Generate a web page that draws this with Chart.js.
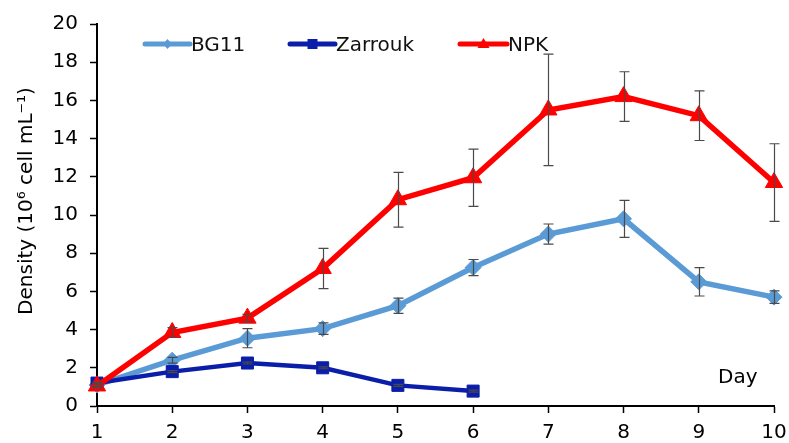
<!DOCTYPE html>
<html>
<head>
<meta charset="utf-8">
<script src="https://cdn.jsdelivr.net/npm/chart.js@4.4.1/dist/chart.umd.min.js"></script>
<style>
  html, body { margin: 0; padding: 0; background: #fff; }
  #wrap { width: 789px; height: 443px; position: relative; }
</style>
</head>
<body>
<div id="wrap"><canvas id="c" width="789" height="443"></canvas></div>
<script>
// Culture days
const days = [1, 2, 3, 4, 5, 6, 7, 8, 9, 10];

// Cell density (10^6 cell mL^-1) per medium
const bg11 = [1.1, 2.4, 3.55, 4.05, 5.25, 7.25, 9.0, 9.8, 6.5, 5.7];
const bg11Err = [0.1, 0.15, 0.5, 0.3, 0.4, 0.42, 0.53, 0.97, 0.74, 0.33];

const zarrouk = [1.2, 1.8, 2.25, 2.0, 1.08, 0.78];
const zarroukErr = [0.05, 0.05, 0.05, 0.05, 0.05, 0.05];

const npk = [1.05, 3.85, 4.6, 7.2, 10.8, 11.95, 15.5, 16.2, 15.2, 11.7];
const npkErr = [0.1, 0.25, 0.2, 1.05, 1.43, 1.5, 2.92, 1.3, 1.3, 2.03];

const yTicks = [0, 2, 4, 6, 8, 10, 12, 14, 16, 18, 20];

const FONT = 'DejaVu Sans, Verdana, sans-serif';
const C_BG11 = '#5B9BD5';
const C_ZAR = '#0A1EAA';
const C_NPK = '#FF0000';

function toPoints(vals) {
  return vals.map((v, i) => ({ x: days[i], y: v }));
}

// Vertical error bars with caps, positioned through the chart scales
const errorBars = {
  id: 'errorBars',
  afterDatasetsDraw(chart) {
    const { ctx, scales: { x, y } } = chart;
    ctx.save();
    ctx.strokeStyle = '#4a4a4a';
    ctx.lineWidth = 1.2;
    chart.data.datasets.forEach(ds => {
      const errs = ds.errors;
      if (!errs) return;
      ds.data.forEach((p, j) => {
        const e = errs[j];
        if (!e) return;
        const px = Math.round(x.getPixelForValue(p.x)) + 0.5;
        const top = y.getPixelForValue(p.y + e);
        const bot = y.getPixelForValue(p.y - e);
        const cap = 5;
        ctx.beginPath();
        ctx.moveTo(px, top); ctx.lineTo(px, bot);
        ctx.moveTo(px - cap, top); ctx.lineTo(px + cap, top);
        ctx.moveTo(px - cap, bot); ctx.lineTo(px + cap, bot);
        ctx.stroke();
      });
    });
    ctx.restore();
  }
};

// Legend row, axis title and "Day" caption
const annotations = {
  id: 'annotations',
  afterDraw(chart) {
    const ctx = chart.ctx;
    ctx.save();

    // y-axis title
    ctx.fillStyle = '#000';
    ctx.translate(32, 201);
    ctx.rotate(-Math.PI / 2);
    ctx.font = '20px ' + FONT;
    ctx.textAlign = 'center';
    ctx.textBaseline = 'alphabetic';
    ctx.fillText('Density (10\u2076 cell mL\u207B\u00B9)', 0, 0);
    ctx.setTransform(1, 0, 0, 1, 0, 0);

    // "Day" caption
    ctx.textAlign = 'left';
    ctx.fillText('Day', 718, 383);

    // legend
    const items = [
      { label: 'BG11', color: C_BG11, x0: 145, x1: 190, shape: 'diamond' },
      { label: 'Zarrouk', color: C_ZAR, x0: 290, x1: 335, shape: 'square' },
      { label: 'NPK', color: C_NPK, x0: 460, x1: 507, shape: 'triangle' }
    ];
    const ly = 44;
    items.forEach(it => {
      ctx.strokeStyle = it.color;
      ctx.fillStyle = it.color;
      ctx.lineWidth = 5;
      ctx.lineCap = 'round';
      ctx.beginPath();
      ctx.moveTo(it.x0, ly); ctx.lineTo(it.x1, ly);
      ctx.stroke();
      const cx = (it.x0 + it.x1) / 2;
      ctx.beginPath();
      if (it.shape === 'diamond') {
        ctx.moveTo(cx, ly - 5); ctx.lineTo(cx + 4.5, ly); ctx.lineTo(cx, ly + 5); ctx.lineTo(cx - 4.5, ly);
      } else if (it.shape === 'square') {
        ctx.rect(cx - 5, ly - 5, 10, 10);
      } else {
        ctx.moveTo(cx, ly - 6); ctx.lineTo(cx + 6, ly + 4); ctx.lineTo(cx - 6, ly + 4);
      }
      ctx.closePath();
      ctx.fill();
      ctx.fillStyle = '#111';
      ctx.font = '20px ' + FONT;
      ctx.textAlign = 'left';
      ctx.textBaseline = 'alphabetic';
      ctx.fillText(it.label, it.x1 + 1, 51);
    });
    ctx.restore();
  }
};

new Chart(document.getElementById('c'), {
  type: 'line',
  data: {
    datasets: [
      {
        label: 'NPK', data: toPoints(npk), errors: npkErr,
        borderColor: C_NPK, backgroundColor: C_NPK, borderWidth: 5.5,
        pointStyle: 'triangle', pointRadius: 10, pointBorderWidth: 1,
        pointBackgroundColor: C_NPK, pointBorderColor: C_NPK,
        tension: 0, clip: false, order: 0
      },
      {
        label: 'Zarrouk', data: toPoints(zarrouk), errors: zarroukErr,
        borderColor: C_ZAR, backgroundColor: C_ZAR, borderWidth: 4.5,
        pointStyle: 'rect', pointRadius: 8.5, pointBorderWidth: 1,
        pointBackgroundColor: C_ZAR, pointBorderColor: C_ZAR,
        tension: 0, clip: false, order: 1
      },
      {
        label: 'BG11', data: toPoints(bg11), errors: bg11Err,
        borderColor: C_BG11, backgroundColor: C_BG11, borderWidth: 5.5,
        pointStyle: 'rectRot', pointRadius: 8, pointBorderWidth: 1,
        pointBackgroundColor: C_BG11, pointBorderColor: C_BG11,
        tension: 0, clip: false, order: 2
      }
    ]
  },
  options: {
    responsive: false,
    animation: false,
    events: [],
    layout: { padding: { top: 24, right: 15, left: 0, bottom: 0 } },
    plugins: { legend: { display: false }, tooltip: { enabled: false }, title: { display: false } },
    scales: {
      x: {
        type: 'linear', min: 1, max: 10,
        afterFit(scale) { scale.height = 37; scale.paddingLeft = 0; scale.paddingRight = 0; },
        afterBuildTicks(scale) { scale.ticks = days.map(v => ({ value: v })); },
        ticks: { color: '#000', font: { family: FONT, size: 20 }, padding: 8, maxRotation: 0, autoSkip: false },
        grid: { display: true, drawOnChartArea: false, drawTicks: true, tickLength: 7, tickColor: '#000', tickWidth: 1.5 },
        border: { display: true, color: '#000', width: 2 }
      },
      y: {
        type: 'linear', min: 0, max: 20,
        afterFit(scale) { scale.width = 97; scale.paddingTop = 0; scale.paddingBottom = 0; },
        afterBuildTicks(scale) { scale.ticks = yTicks.map(v => ({ value: v })); },
        ticks: { color: '#000', font: { family: FONT, size: 20 }, padding: 12, autoSkip: false },
        grid: { display: true, drawOnChartArea: false, drawTicks: true, tickLength: 7, tickColor: '#000', tickWidth: 1.5 },
        border: { display: true, color: '#000', width: 2 }
      }
    }
  },
  plugins: [errorBars, annotations]
});
</script>
</body>
</html>
